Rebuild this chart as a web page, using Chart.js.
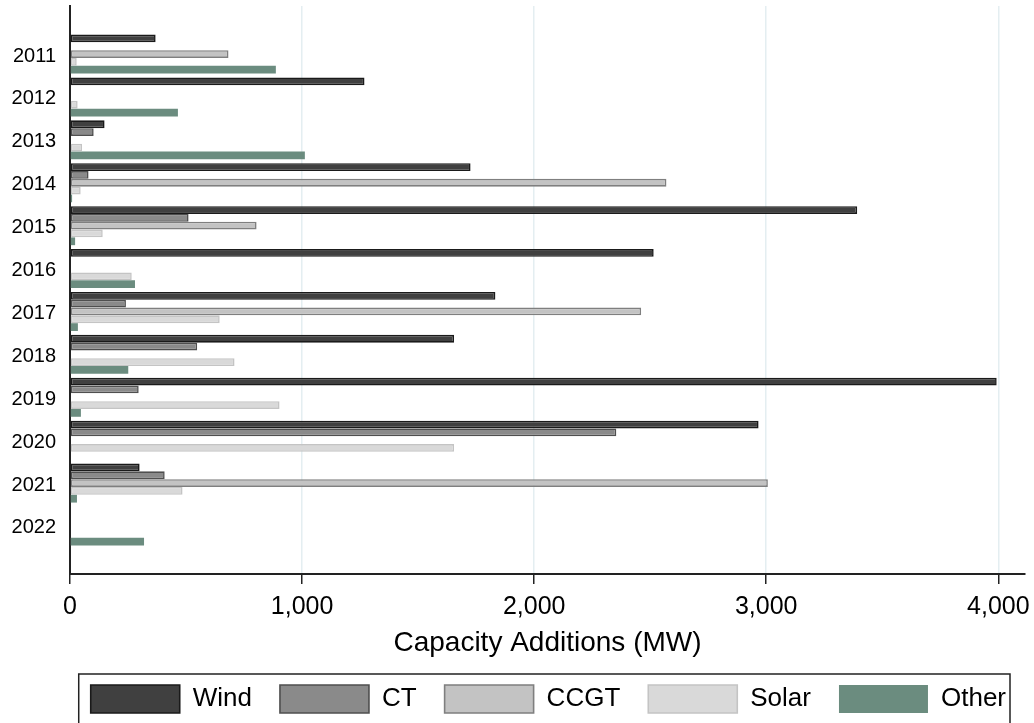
<!DOCTYPE html>
<html>
<head>
<meta charset="utf-8">
<script src="https://cdn.jsdelivr.net/npm/chart.js@4.4.1/dist/chart.umd.min.js"></script>
<style>
  html, body { margin: 0; padding: 0; background: #fff; }
  #wrap { width: 1034px; height: 723px; position: relative; }
</style>
</head>
<body>
<div id="wrap"><canvas id="chart"></canvas></div>
<script>
// ── datos ────────────────────────────────────────────────
const YEARS = ['2011', '2012', '2013', '2014', '2015', '2016', '2017', '2018', '2019', '2020', '2021', '2022'];
const WIND  = [369, 1269, 149, 1726, 3392, 2515, 1833, 1655, 3993, 2967, 300, null];
const CT    = [null, null, 102, 80, 511, null, 241, 548, 296, 2354, 408, null];
const CCGT  = [683, null, null, 2570, 804, null, 2461, null, null, null, 3007, null];
const SOLAR = [29, 33, 52, 46, 141, 266, 645, 709, 903, 1655, 485, null];
const OTHER = [887, 465, 1012, 9, 22, 280, 34, 251, 47, null, 30, 319];
const X_TICKS = [0, 1000, 2000, 3000, 4000];

const FONT = "'Liberation Sans', Arial, sans-serif";

const toPts = arr => arr.map((v, i) => ({ x: v, y: i }));

function serie(label, data, fill, border, bw) {
  return {
    label,
    data: toPts(data),
    backgroundColor: fill,
    borderColor: border,
    borderWidth: bw,
    borderSkipped: false,
    categoryPercentage: 0.91,
    barPercentage: 1.0,
  };
}

// marco alrededor de la leyenda
const legendFrame = {
  id: 'legendFrame',
  afterDraw(chart) {
    const lg = chart.legend;
    if (!lg || !lg.legendHitBoxes.length) return;
    const hb = lg.legendHitBoxes;
    const first = hb[0], last = hb[hb.length - 1];
    const { ctx } = chart;
    ctx.save();
    ctx.strokeStyle = '#222';
    ctx.lineWidth = 1.5;
    ctx.strokeRect(first.left - 12, first.top - 11, last.left + last.width - first.left + 16, 80);
    ctx.restore();
  }
};

new Chart(document.getElementById('chart'), {
  type: 'bar',
  data: {
    datasets: [
      serie('Wind', WIND, '#404040', '#1a1a1a', 1.6),
      serie('CT', CT, '#8a8a8a', '#4f4f4f', 1.6),
      serie('CCGT', CCGT, '#c3c3c3', '#7f7f7f', 1.6),
      serie('Solar', SOLAR, '#d9d9d9', '#c4c4c4', 1.6),
      serie('Other', OTHER, '#6b8c7f', '#6b8c7f', 0),
    ],
  },
  options: {
    indexAxis: 'y',
    responsive: true,
    maintainAspectRatio: false,
    animation: false,
    layout: { padding: { top: 6, right: 0, left: 10, bottom: 0 } },
    plugins: {
      tooltip: { enabled: false },
      legend: {
        position: 'bottom',
        align: 'end',
        labels: {
          boxWidth: 89,
          boxHeight: 28,
          padding: 28,
          color: '#000',
          font: { size: 26, family: FONT },
        },
      },
    },
    scales: {
      x: {
        type: 'linear',
        min: 0,
        max: 4115,
        afterBuildTicks: s => { s.ticks = X_TICKS.map(v => ({ value: v })); },
        afterFit: s => { s.paddingRight = 9; },
        grid: {
          color: '#e4eef1',
          lineWidth: 1.5,
          tickColor: '#222',
          tickWidth: 1.5,
          tickLength: 10,
        },
        border: { display: true, color: '#222', width: 2 },
        ticks: {
          color: '#000',
          padding: 8,
          font: { size: 25, family: FONT },
          callback: v => v.toLocaleString('en-US'),
        },
        title: {
          display: true,
          text: 'Capacity Additions (MW)',
          color: '#000',
          font: { size: 28, family: FONT, lineHeight: 1.0 },
          padding: { top: -1, bottom: 0 },
        },
      },
      y: {
        type: 'linear',
        reverse: true,
        offset: false,
        min: -1.12,
        max: 12.12,
        afterBuildTicks: s => { s.ticks = YEARS.map((_, i) => ({ value: i })); },
        afterFit: s => { s.width = 60; s.paddingTop = 0; s.paddingBottom = 0; },
        grid: { display: false, drawTicks: false, offset: false },
        border: { display: true, color: '#222', width: 2 },
        ticks: {
          color: '#000',
          padding: 14,
          labelOffset: 2,
          font: { size: 20, family: FONT },
          callback: v => YEARS[Math.round(v)],
        },
      },
    },
  },
  plugins: [legendFrame],
});
</script>
</body>
</html>
